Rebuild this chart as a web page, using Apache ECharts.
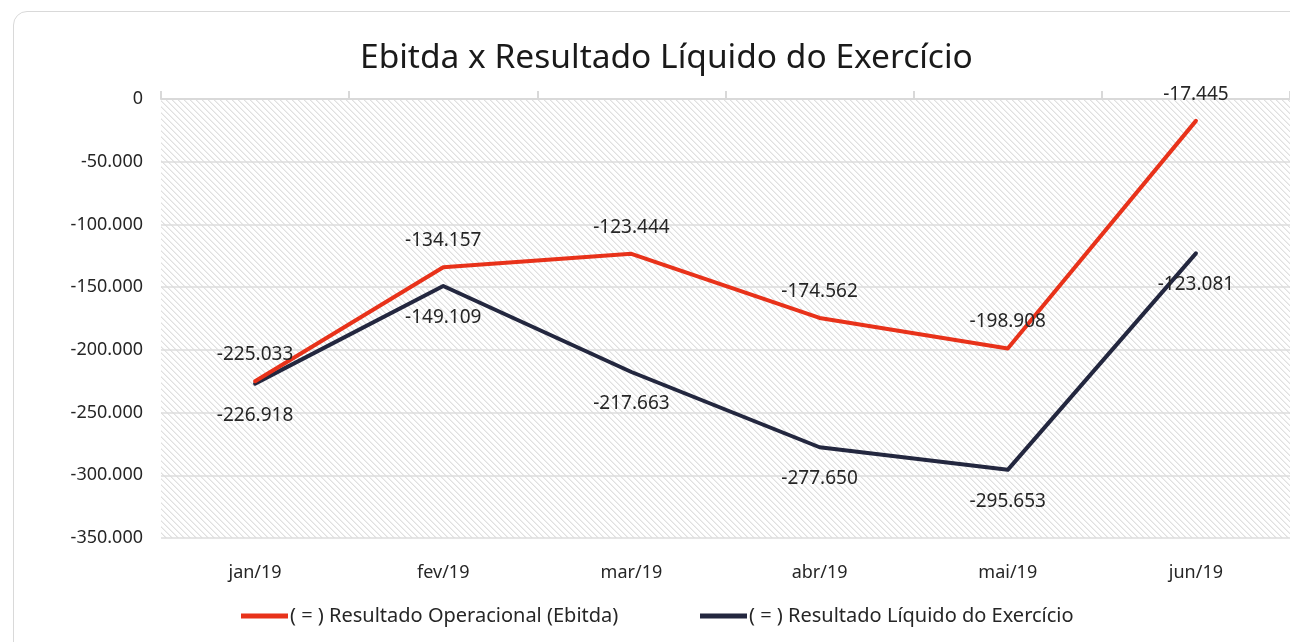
<!DOCTYPE html>
<html>
<head>
<meta charset="utf-8">
<script src="https://cdn.jsdelivr.net/npm/echarts@6/dist/echarts.min.js"></script>
<style>
  html, body { margin: 0; padding: 0; background: #fff; }
  #frame {
    position: absolute; left: 13px; top: 11px; width: 1300px; height: 660px;
    border: 1px solid #d9d9d9; border-radius: 14px; box-sizing: border-box;
  }
  #chart { position: absolute; left: 0; top: 0; width: 1290px; height: 642px; }
</style>
</head>
<body>
<div id="frame"></div>
<div id="chart"></div>
<script>
// meses
var categorias = ['jan/19', 'fev/19', 'mar/19', 'abr/19', 'mai/19', 'jun/19'];
// ( = ) Resultado Operacional (Ebitda)
var ebitda = [-225033, -134157, -123444, -174562, -198908, -17445];
// ( = ) Resultado Líquido do Exercício
var liquido = [-226918, -149109, -217663, -277650, -295653, -123081];

var nomes = ['( = ) Resultado Operacional (Ebitda)', '( = ) Resultado Líquido do Exercício'];

// formato pt-BR: separador de milhar com ponto
function fmt(v) {
    var s = Math.abs(Math.round(v)).toString().replace(/\B(?=(\d{3})+(?!\d))/g, '.');
    return (v < 0 ? '-' : '') + s;
}

// fundo hachurado do plot area
function hachura() {
    var n = 6;
    var c = document.createElement('canvas');
    c.width = n; c.height = n;
    var ctx = c.getContext('2d');
    ctx.fillStyle = '#ffffff';
    ctx.fillRect(0, 0, n, n);
    for (var y = 0; y < n; y++) {
        for (var x = 0; x < n; x++) {
            var d = ((x - y) % n + n) % n;
            if (d < 2) {
                ctx.fillStyle = d === 0 ? '#e0e0e0' : '#efefef';
                ctx.fillRect(x, y, 1, 1);
            }
        }
    }
    return { image: c, repeat: 'repeat' };
}

var fonte = '"Noto Sans", "Open Sans", sans-serif';
var corTexto = '#262626';

var myChart = echarts.init(document.getElementById('chart'), null, { renderer: 'canvas' });

function legenda(nome, esquerda) {
    return {
        data: [nome],
        left: esquerda,
        top: 601,
        itemWidth: 47,
        itemHeight: 5,
        icon: 'rect',
        textStyle: { fontFamily: fonte, fontSize: 20, color: corTexto, padding: [0, 0, 0, -3] }
    };
}

myChart.setOption({
    animation: false,
    textStyle: { fontFamily: fonte },
    title: {
        text: 'Ebitda x Resultado Líquido do Exercício',
        left: 355,
        top: 36,
        textStyle: { fontFamily: fonte, fontSize: 33.5, fontWeight: 'normal', color: '#1a1a1a' }
    },
    legend: [legenda(nomes[0], 236), legenda(nomes[1], 695)],
    grid: {
        left: 161,
        right: -5,
        top: 99,
        bottom: 104,
        show: true,
        borderWidth: 0,
        backgroundColor: hachura()
    },
    xAxis: [
        {
            type: 'category',
            position: 'bottom',
            data: categorias,
            boundaryGap: true,
            axisLine: { show: false },
            axisTick: { show: false },
            axisLabel: { fontFamily: fonte, fontSize: 18, color: corTexto, margin: 26 }
        },
        {
            type: 'category',
            position: 'top',
            data: categorias,
            boundaryGap: true,
            axisLine: { show: true, lineStyle: { color: '#d9d9d9', width: 2 } },
            axisTick: { show: true, length: 8, lineStyle: { color: '#d9d9d9', width: 2 } },
            axisLabel: { show: false }
        }
    ],
    yAxis: {
        type: 'value',
        min: -350000,
        max: 0,
        interval: 50000,
        axisLine: { show: false },
        axisTick: { show: false },
        splitLine: { lineStyle: { color: '#dcdcdc', width: 1.5 } },
        axisLabel: {
            fontFamily: fonte, fontSize: 18, color: corTexto, margin: 18,
            formatter: function (v) { return fmt(v); }
        }
    },
    series: [
        {
            name: nomes[0],
            type: 'line',
            data: ebitda,
            symbol: 'circle',
            symbolSize: 2,
            showSymbol: true,
            lineStyle: { color: '#e8321a', width: 4, cap: 'round', join: 'round' },
            itemStyle: { color: '#e8321a' },
            z: 3,
            label: {
                show: true,
                position: 'top',
                distance: 16,
                fontFamily: fonte,
                fontSize: 19,
                color: corTexto,
                formatter: function (p) { return fmt(p.value); }
            }
        },
        {
            name: nomes[1],
            type: 'line',
            data: liquido,
            symbol: 'circle',
            symbolSize: 2,
            showSymbol: true,
            lineStyle: { color: '#23273f', width: 4, cap: 'round', join: 'round' },
            itemStyle: { color: '#23273f' },
            z: 2,
            label: {
                show: true,
                position: 'bottom',
                distance: 21,
                fontFamily: fonte,
                fontSize: 19,
                color: corTexto,
                formatter: function (p) { return fmt(p.value); }
            }
        }
    ]
});
</script>
</body>
</html>
